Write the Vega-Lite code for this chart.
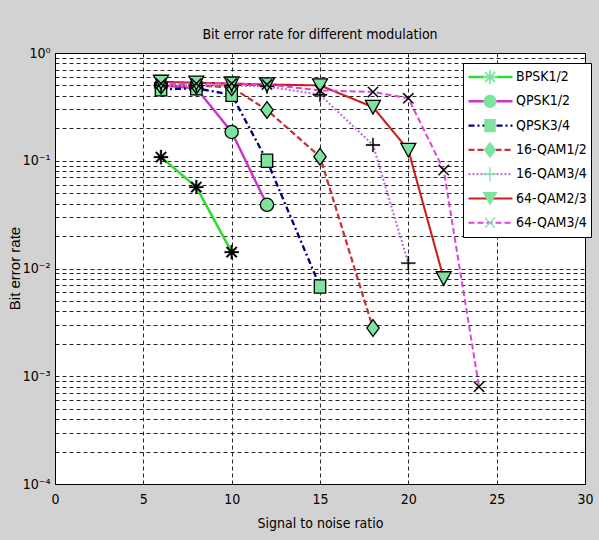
{
  "$schema": "https://vega.github.io/schema/vega-lite/v6.json",
  "width": 530,
  "height": 431,
  "autosize": {"type": "none"},
  "padding": {"left": 55, "top": 53, "right": 14, "bottom": 56},
  "background": "#d2d2d2",
  "title": {
    "text": "Bit error rate for different modulation",
    "font": "Liberation Sans Narrow, Arial Narrow, DejaVu Sans Condensed, sans-serif",
    "fontSize": 14,
    "fontWeight": "normal",
    "color": "black",
    "frame": "group",
    "offset": 4
  },
  "config": {
    "view": {"fill": "white", "stroke": "black", "strokeWidth": 1},
    "axis": {
      "grid": true,
      "gridColor": "black",
      "gridDash": [4, 3],
      "gridOpacity": 0.85,
      "gridWidth": 1,
      "ticks": false,
      "domain": false,
      "labelColor": "black",
      "labelFont": "Liberation Sans Narrow, Arial Narrow, DejaVu Sans Condensed, sans-serif",
      "labelFontSize": 14,
      "titleColor": "black",
      "titleFontWeight": "normal",
      "labelOverlap": false,
      "labelFlush": false
    }
  },
  "data": {
    "values": [
      {"series": "BPSK1/2", "snr": 6, "ber": 0.108},
      {"series": "BPSK1/2", "snr": 8, "ber": 0.057},
      {"series": "BPSK1/2", "snr": 10, "ber": 0.0142},
      {"series": "QPSK1/2", "snr": 6, "ber": 0.5},
      {"series": "QPSK1/2", "snr": 8, "ber": 0.47},
      {"series": "QPSK1/2", "snr": 10, "ber": 0.185},
      {"series": "QPSK1/2", "snr": 12, "ber": 0.039},
      {"series": "QPSK3/4", "snr": 6, "ber": 0.46},
      {"series": "QPSK3/4", "snr": 8, "ber": 0.47},
      {"series": "QPSK3/4", "snr": 10, "ber": 0.41},
      {"series": "QPSK3/4", "snr": 12, "ber": 0.1},
      {"series": "QPSK3/4", "snr": 15, "ber": 0.0068},
      {"series": "16-QAM1/2", "snr": 6, "ber": 0.5},
      {"series": "16-QAM1/2", "snr": 8, "ber": 0.5},
      {"series": "16-QAM1/2", "snr": 10, "ber": 0.48},
      {"series": "16-QAM1/2", "snr": 12, "ber": 0.296},
      {"series": "16-QAM1/2", "snr": 15, "ber": 0.109},
      {"series": "16-QAM1/2", "snr": 18, "ber": 0.0028},
      {"series": "16-QAM3/4", "snr": 6, "ber": 0.5},
      {"series": "16-QAM3/4", "snr": 8, "ber": 0.5},
      {"series": "16-QAM3/4", "snr": 10, "ber": 0.5},
      {"series": "16-QAM3/4", "snr": 12, "ber": 0.49},
      {"series": "16-QAM3/4", "snr": 15, "ber": 0.41},
      {"series": "16-QAM3/4", "snr": 18, "ber": 0.14},
      {"series": "16-QAM3/4", "snr": 20, "ber": 0.0112},
      {"series": "64-QAM2/3", "snr": 6, "ber": 0.54},
      {"series": "64-QAM2/3", "snr": 8, "ber": 0.53},
      {"series": "64-QAM2/3", "snr": 10, "ber": 0.52},
      {"series": "64-QAM2/3", "snr": 12, "ber": 0.51},
      {"series": "64-QAM2/3", "snr": 15, "ber": 0.5},
      {"series": "64-QAM2/3", "snr": 18, "ber": 0.315},
      {"series": "64-QAM2/3", "snr": 20, "ber": 0.126},
      {"series": "64-QAM2/3", "snr": 22, "ber": 0.0081},
      {"series": "64-QAM3/4", "snr": 6, "ber": 0.52},
      {"series": "64-QAM3/4", "snr": 8, "ber": 0.52},
      {"series": "64-QAM3/4", "snr": 10, "ber": 0.52},
      {"series": "64-QAM3/4", "snr": 12, "ber": 0.51},
      {"series": "64-QAM3/4", "snr": 15, "ber": 0.45},
      {"series": "64-QAM3/4", "snr": 18, "ber": 0.435},
      {"series": "64-QAM3/4", "snr": 20, "ber": 0.38},
      {"series": "64-QAM3/4", "snr": 22, "ber": 0.082},
      {"series": "64-QAM3/4", "snr": 24, "ber": 0.0008}
    ]
  },
  "encoding": {
    "x": {
      "field": "snr",
      "type": "quantitative",
      "scale": {"domain": [0, 30], "nice": false, "zero": false},
      "axis": {
        "values": [0, 5, 10, 15, 20, 25, 30],
        "labelPadding": 8,
        "title": "Signal to noise ratio",
        "titleFont": "Liberation Sans Narrow, Arial Narrow, DejaVu Sans Condensed, sans-serif",
        "titleFontSize": 14,
        "titlePadding": 10
      }
    },
    "y": {
      "field": "ber",
      "type": "quantitative",
      "scale": {"type": "log", "domain": [0.0001, 1], "nice": false},
      "axis": {
        "values": [0.0001, 0.0002, 0.0003, 0.0004, 0.0005, 0.0006, 0.0007, 0.0008, 0.0009, 0.001, 0.002, 0.003, 0.004, 0.005, 0.006, 0.007, 0.008, 0.009, 0.01, 0.02, 0.03, 0.04, 0.05, 0.06, 0.07, 0.08, 0.09, 0.1, 0.2, 0.3, 0.4, 0.5, 0.6, 0.7, 0.8, 0.9, 1],
        "labelExpr": "datum.value == 1 ? '10⁰' : datum.value == 0.1 ? '10⁻¹' : datum.value == 0.01 ? '10⁻²' : datum.value == 0.001 ? '10⁻³' : datum.value == 0.0001 ? '10⁻⁴' : ''",
        "labelPadding": 5,
        "title": "Bit error rate",
        "titleFont": "Liberation Sans, Arial, sans-serif",
        "titleFontSize": 15,
        "titleX": -33,
        "titleY": 215
      }
    }
  },
  "layer": [
    {
      "mark": {"type": "line", "clip": true},
      "encoding": {
        "color": {
          "field": "series",
          "type": "nominal",
          "scale": {
            "domain": ["BPSK1/2", "QPSK1/2", "QPSK3/4", "16-QAM1/2", "16-QAM3/4", "64-QAM2/3", "64-QAM3/4"],
            "range": ["#2ddc2d", "#cc33cc", "#000080", "#c83232", "#c070e0", "#cc1e1e", "#dd44dd"]
          },
          "legend": {
            "title": null,
            "orient": "none",
            "legendX": 408,
            "legendY": 10,
            "symbolType": "stroke",
            "symbolSize": 1936,
            "symbolStrokeWidth": 2,
            "clipHeight": 20,
            "rowPadding": 4.3,
            "padding": 4,
            "labelOffset": 2,
            "labelFont": "Liberation Sans Narrow, Arial Narrow, DejaVu Sans Condensed, sans-serif",
            "labelFontSize": 14,
            "labelColor": "black",
            "strokeColor": "black",
            "fillColor": "white",
            "cornerRadius": 0,
            "zindex": 0
          }
        },
        "strokeDash": {
          "field": "series",
          "type": "nominal",
          "scale": {
            "domain": ["BPSK1/2", "QPSK1/2", "QPSK3/4", "16-QAM1/2", "16-QAM3/4", "64-QAM2/3", "64-QAM3/4"],
            "range": [[1, 0], [1, 0], [6, 3, 2, 3], [6, 3], [2, 2], [1, 0], [6, 3]]
          }
        },
        "strokeWidth": {
          "field": "series",
          "type": "nominal",
          "scale": {
            "domain": ["BPSK1/2", "QPSK1/2", "QPSK3/4", "16-QAM1/2", "16-QAM3/4", "64-QAM2/3", "64-QAM3/4"],
            "range": [2.5, 2, 1, 2, 2, 2.5, 2]
          },
          "legend": null
        }
      }
    },
    {
      "mark": {"type": "point", "filled": true, "stroke": "black", "size": 1936, "opacity": 1},
      "encoding": {
        "fill": {
          "condition": {"test": "indexof(['BPSK1/2', '16-QAM3/4', '64-QAM3/4'], datum.series) >= 0", "value": "black"},
          "value": "#7fe3a0"
        },
        "strokeWidth": {
          "condition": {"test": "indexof(['BPSK1/2', '16-QAM3/4', '64-QAM3/4'], datum.series) >= 0", "value": 0.3},
          "value": 1.3
        },
        "shape": {
          "field": "series",
          "type": "nominal",
          "sort": ["BPSK1/2", "QPSK1/2", "QPSK3/4", "16-QAM1/2", "16-QAM3/4", "64-QAM2/3", "64-QAM3/4"],
          "scale": {
            "range": [
              "M-0.32,-0.04H0.32V0.04H-0.32Z M-0.04,-0.32H0.04V0.32H-0.04Z M-0.202,-0.258L0.258,0.202L0.202,0.258L-0.258,-0.202Z M-0.258,0.202L0.202,-0.258L0.258,-0.202L-0.202,0.258Z",
              "M-0.3,0A0.3,0.3,0,1,0,0.3,0A0.3,0.3,0,1,0,-0.3,0Z",
              "M-0.26,-0.3H0.26V0.3H-0.26Z",
              "M0,-0.38L0.28,0L0,0.38L-0.28,0Z",
              "M-0.32,-0.03H0.32V0.03H-0.32Z M-0.03,-0.32H0.03V0.32H-0.03Z",
              "M-0.34,-0.3L0.34,-0.3L0,0.32Z",
              "M-0.209,-0.251L0.251,0.209L0.209,0.251L-0.251,-0.209Z M-0.251,0.209L0.209,-0.251L0.251,-0.209L-0.209,0.251Z"
            ]
          },
          "legend": {
            "title": null,
            "orient": "none",
            "legendX": 408,
            "legendY": 10,
            "symbolSize": 1936,
            "symbolStrokeWidth": 1.3,
            "symbolFillColor": {"expr": "indexof(['BPSK1/2', '16-QAM3/4', '64-QAM3/4'], datum.value) >= 0 ? 'black' : '#7fe3a0'"},
            "symbolStrokeColor": "black",
            "clipHeight": 20,
            "rowPadding": 4.3,
            "padding": 4,
            "labelOffset": 2,
            "labelFont": "Liberation Sans Narrow, Arial Narrow, DejaVu Sans Condensed, sans-serif",
            "labelFontSize": 14,
            "labelOpacity": 0,
            "zindex": 1
          }
        }
      }
    }
  ]
}
